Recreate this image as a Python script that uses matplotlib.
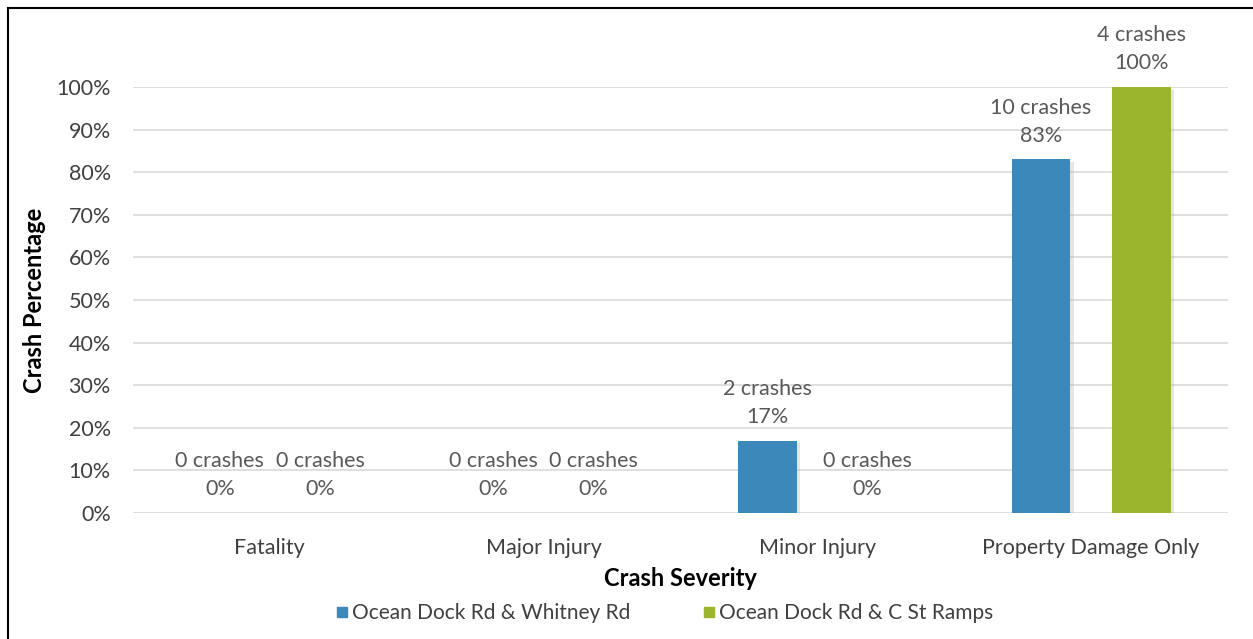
import matplotlib
matplotlib.use("Agg")
import matplotlib.pyplot as plt
import matplotlib.patheffects as pe
from matplotlib.lines import Line2D
import numpy as np

categories = ["Fatality", "Major Injury", "Minor Injury", "Property Damage Only"]
series_names = ["Ocean Dock Rd & Whitney Rd", "Ocean Dock Rd & C St Ramps"]
whitney_pct = [0, 0, 17, 83]
whitney_counts = [0, 0, 2, 10]
cst_pct = [0, 0, 0, 100]
cst_counts = [0, 0, 0, 4]
y_ticks = [0, 10, 20, 30, 40, 50, 60, 70, 80, 90, 100]

colors = ["#3B88BA", "#9BB52C"]
label_color = "#595959"

plt.rcParams["font.family"] = ["Lato", "DejaVu Sans"]

W, H = 1253, 639
fig = plt.figure(figsize=(W / 100, H / 100), dpi=100)
fig.patch.set_facecolor("white")

ax = fig.add_axes([133 / W, 1 - 513 / H, (1228 - 133) / W, (513 - 87) / H])
ax.set_xlim(-0.5, len(categories) - 0.5)
ax.set_ylim(0, 100)

x = np.arange(len(categories))
bw = 0.215
off = 0.183
shadow = [pe.SimplePatchShadow(offset=(2.5, -2), shadow_rgbFace="#aaaaaa", alpha=0.3), pe.Normal()]

for vals, counts, color, sign in [(whitney_pct, whitney_counts, colors[0], -1),
                                  (cst_pct, cst_counts, colors[1], 1)]:
    bars = ax.bar(x + sign * off, vals, width=bw, color=color, zorder=3)
    for b in bars:
        if b.get_height() > 0:
            b.set_path_effects(shadow)
    for xi, v, c in zip(x + sign * off, vals, counts):
        ax.annotate(f"{c} crashes\n{v}%", xy=(xi, v), xytext=(0, 10),
                    textcoords="offset points", ha="center", va="bottom",
                    fontsize=15.5, color=label_color, linespacing=1.5, zorder=4)

ax.set_yticks(y_ticks)
ax.set_yticklabels([f"{t}%" for t in y_ticks], fontsize=15.5, color="#404040")
ax.set_xticks(x)
ax.set_xticklabels(categories, fontsize=15.5, color="#404040")
ax.tick_params(axis="y", length=0, pad=16)
ax.tick_params(axis="x", length=0, pad=18)
ax.grid(axis="y", color="#D9D9D9", linewidth=1.2, zorder=0)
for s in ax.spines.values():
    s.set_visible(False)
ax.set_axisbelow(True)

ax.set_xlabel("Crash Severity", fontsize=17, fontweight="bold", color="black")
ax.xaxis.set_label_coords(0.5, -(567 - 513) / (513 - 87))
ax.set_ylabel("Crash Percentage", fontsize=17, fontweight="bold", color="black")
ax.yaxis.set_label_coords(-(133 - 46) / (1228 - 133), 0.5)

handles = [Line2D([], [], marker="s", linestyle="none", markersize=7.5,
                  markerfacecolor=c, markeredgecolor=c) for c in colors]
fig.legend(handles, series_names, loc="center", bbox_to_anchor=(664 / W, 1 - 613 / H),
           ncol=2, frameon=False, fontsize=15, handletextpad=0.15, columnspacing=3.4,
           labelcolor="#404040", handlelength=0.7)

# outer frame lines along the left and top edges
fig.add_artist(Line2D([7.5 / W, 7.5 / W], [0, 1 - 7.5 / H], transform=fig.transFigure,
                      color="black", linewidth=1.5))
fig.add_artist(Line2D([7.5 / W, 1], [1 - 7.5 / H, 1 - 7.5 / H], transform=fig.transFigure,
                      color="black", linewidth=1.5))

fig.savefig("out.png", dpi=100)
